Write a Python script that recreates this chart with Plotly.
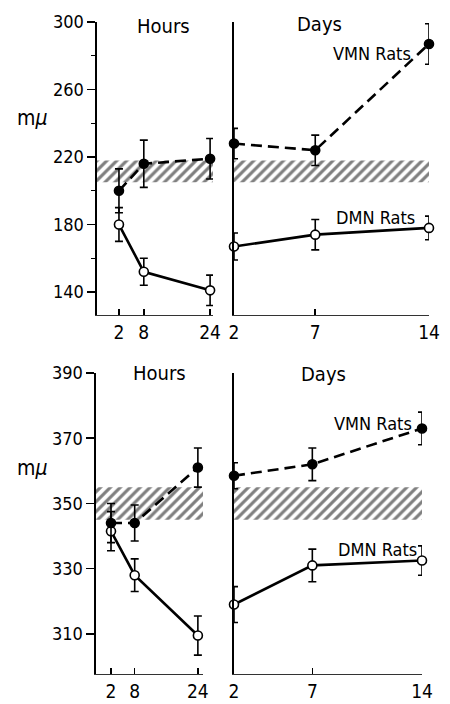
import plotly.graph_objects as go

W, H = 450, 704
FONT = "Liberation Sans Narrow, Arial Narrow, DejaVu Sans Condensed, Liberation Sans, Arial"

# ---------------- data ----------------
hours = [2, 8, 24]
days = [2, 7, 14]

# top panel (upper chart)
top_vmn_hours = [200, 216, 219]
top_vmn_hours_err = [13, 14, 12]
top_dmn_hours = [180, 152, 141]
top_dmn_hours_err = [10, 8, 9]
top_vmn_days = [228, 224, 287]
top_vmn_days_err = [9, 9, 12]
top_dmn_days = [167, 174, 178]
top_dmn_days_err = [8, 9, 7]
top_normal = [205, 218]

# bottom panel (lower chart)
bot_vmn_hours = [344, 344, 361]
bot_vmn_hours_err = [6, 5.5, 6]
bot_dmn_hours = [341.5, 328, 309.5]
bot_dmn_hours_err = [6, 5, 6]
bot_vmn_days = [358.5, 362, 373]
bot_vmn_days_err = [4, 5, 5]
bot_dmn_days = [319, 331, 332.5]
bot_dmn_days_err = [5.5, 5, 4.5]
bot_normal = [345, 355]

top_yticks = [140, 180, 220, 260, 300]
top_yminor = [160, 200, 240, 280]
bot_yticks = [310, 330, 350, 370, 390]

# ---------------- axes geometry ----------------
def px_x(a, b):
    return [a / W, b / W]

def px_y(top, bottom):
    return [1 - bottom / H, 1 - top / H]

panels = {
    "top_hours": dict(x="x", y="y", xr=[-3.3, 24.7], xd=px_x(97, 213)),
    "top_days": dict(x="x2", y="y2", xr=[2, 14], xd=px_x(234, 429)),
    "bot_hours": dict(x="x3", y="y3", xr=[-1.8, 25.3], xd=px_x(96, 203)),
    "bot_days": dict(x="x4", y="y4", xr=[2, 14], xd=px_x(234, 422)),
}
top_yr, top_yd = [126.4, 300], px_y(22, 315)
bot_yr, bot_yd = [297.7, 390], px_y(373, 674)

fig = go.Figure()


def band(panel, normal):
    p = panels[panel]
    x0, x1 = p["xr"]
    fig.add_trace(go.Scatter(
        x=[x0, x1, x1, x0, x0], y=[normal[0], normal[0], normal[1], normal[1], normal[0]],
        xaxis=p["x"], yaxis=p["y"], mode="lines", fill="toself",
        line=dict(width=0, color="rgba(0,0,0,0)"),
        fillcolor="rgba(0,0,0,0)",
        fillpattern=dict(shape="/", fgcolor="black", bgcolor="rgba(0,0,0,0)", size=7, solidity=0.45),
        hoverinfo="skip", showlegend=False,
    ))


def series(panel, xs, ys, err, filled):
    p = panels[panel]
    fig.add_trace(go.Scatter(
        x=xs, y=ys, xaxis=p["x"], yaxis=p["y"], mode="lines+markers",
        line=dict(color="black", width=2.6, dash="11px,6px" if filled else "solid"),
        marker=dict(size=9, symbol="circle", color="black" if filled else "white",
                    line=dict(color="black", width=1.6)),
        error_y=dict(type="data", array=err, color="black", thickness=1.6, width=4),
        cliponaxis=False, showlegend=False,
    ))


band("top_hours", top_normal)
band("top_days", top_normal)
band("bot_hours", bot_normal)
band("bot_days", bot_normal)

series("top_hours", hours, top_dmn_hours, top_dmn_hours_err, False)
series("top_hours", hours, top_vmn_hours, top_vmn_hours_err, True)
series("top_days", days, top_dmn_days, top_dmn_days_err, False)
series("top_days", days, top_vmn_days, top_vmn_days_err, True)
series("bot_hours", hours, bot_dmn_hours, bot_dmn_hours_err, False)
series("bot_hours", hours, bot_vmn_hours, bot_vmn_hours_err, True)
series("bot_days", days, bot_dmn_days, bot_dmn_days_err, False)
series("bot_days", days, bot_vmn_days, bot_vmn_days_err, True)

xcommon = dict(showgrid=False, zeroline=False, showline=True, linecolor="#333", linewidth=1,
               ticks="inside", ticklen=6, tickwidth=1.6, tickcolor="black", automargin=False,
               tickfont=dict(family=FONT, size=19, color="black"), fixedrange=True)
ycommon = dict(showgrid=False, zeroline=False, showline=True, linecolor="black", linewidth=1.6,
               fixedrange=True, automargin=False)

layout = dict(
    width=W, height=H, margin=dict(l=0, r=0, t=0, b=0, autoexpand=False),
    paper_bgcolor="white", plot_bgcolor="white", showlegend=False,
    xaxis=dict(xcommon, domain=panels["top_hours"]["xd"], range=panels["top_hours"]["xr"],
               tickvals=hours, anchor="y"),
    xaxis2=dict(xcommon, domain=panels["top_days"]["xd"], range=panels["top_days"]["xr"],
                tickvals=days, anchor="y2"),
    xaxis3=dict(xcommon, domain=panels["bot_hours"]["xd"], range=panels["bot_hours"]["xr"],
                tickvals=hours, anchor="y3"),
    xaxis4=dict(xcommon, domain=panels["bot_days"]["xd"], range=panels["bot_days"]["xr"],
                tickvals=days, anchor="y4"),
    yaxis=dict(ycommon, domain=top_yd, range=top_yr, anchor="x", tickvals=top_yticks,
               ticks="outside", ticklen=8, tickwidth=1.5, tickcolor="black",
               tickfont=dict(family=FONT, size=18, color="black"),
               minor=dict(tickvals=top_yminor, ticks="outside", ticklen=4,
                          tickwidth=1.2, tickcolor="black")),
    yaxis2=dict(ycommon, domain=top_yd, range=top_yr, anchor="x2", showticklabels=False, ticks=""),
    yaxis3=dict(ycommon, domain=bot_yd, range=bot_yr, anchor="x3", tickvals=bot_yticks,
                ticks="outside", ticklen=8, tickwidth=1.5, tickcolor="black",
                tickfont=dict(family=FONT, size=18, color="black")),
    yaxis4=dict(ycommon, domain=bot_yd, range=bot_yr, anchor="x4", showticklabels=False, ticks=""),
)
fig.update_layout(**layout)


def label(text, x, y, size):
    fig.add_annotation(text=text, x=x / W, y=1 - y / H, xref="paper", yref="paper",
                       showarrow=False, xanchor="center", yanchor="middle",
                       font=dict(family=FONT, size=size, color="black"))


label("Hours", 163, 26, 20)
label("Days", 319, 24, 20)
label("VMN Rats", 372, 53, 18)
label("DMN Rats", 375, 218, 18)
label("m<i>μ</i>", 32, 118, 21)
label("Hours", 159, 373, 20)
label("Days", 323, 374, 20)
label("VMN Rats", 373, 423, 18)
label("DMN Rats", 377, 549, 18)
label("m<i>μ</i>", 32, 468, 21)

fig.write_html(
    "out.html",
    config={"displayModeBar": False, "staticPlot": True},
    post_script="document.body.style.margin='0';document.body.style.overflow='hidden';",
)
